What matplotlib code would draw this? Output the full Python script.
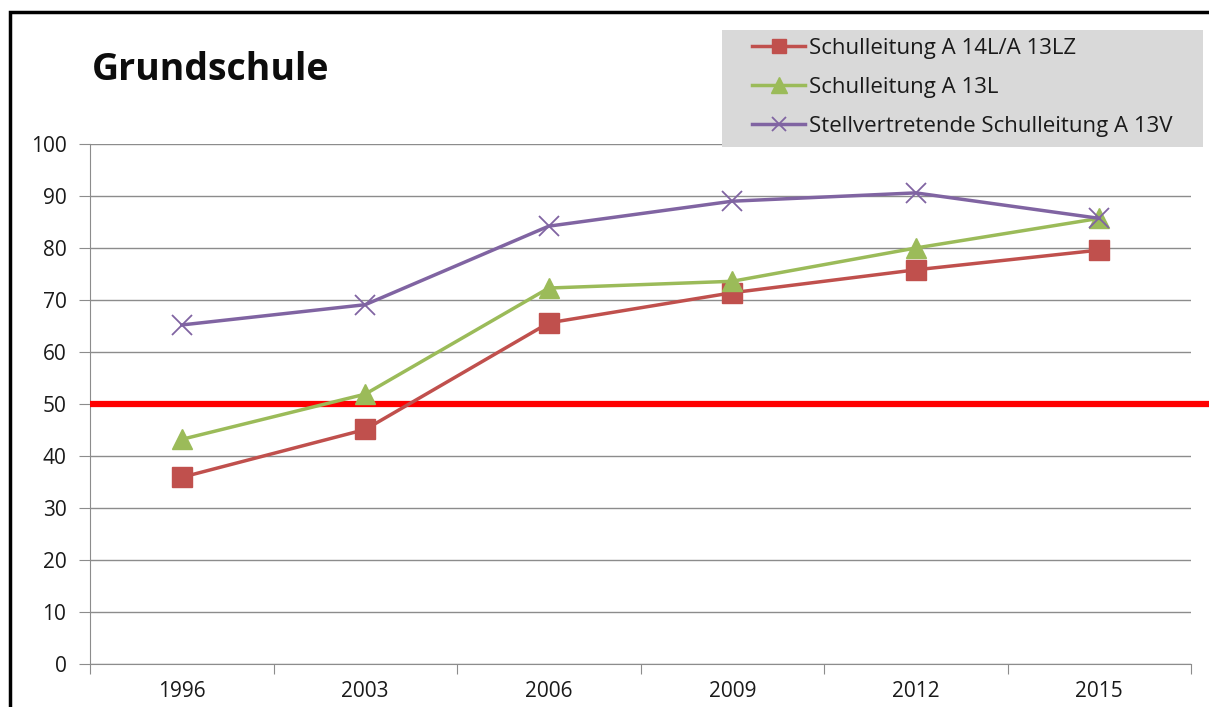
import matplotlib.pyplot as plt
from matplotlib.patches import Rectangle
import numpy as np

years = ['1996', '2003', '2006', '2009', '2012', '2015']
leitung_a14 = [35.9, 45.1, 65.6, 71.4, 75.8, 79.6]
leitung_a13 = [43.2, 51.9, 72.3, 73.6, 80.0, 85.7]
stellv_a13v = [65.2, 69.1, 84.2, 89.0, 90.6, 85.7]
threshold = 50

plt.rcParams['font.family'] = ['Open Sans', 'DejaVu Sans']

fig = plt.figure(figsize=(12.09, 7.07), dpi=100)
ax = fig.add_axes([90/1209, 1-664/707, (1191-90)/1209, (664-144)/707])

x = np.arange(len(years))
ax.plot(x, leitung_a14, color='#C0504D', lw=2.5, marker='s', ms=14,
        label='Schulleitung A 14L/A 13LZ', zorder=4)
ax.plot(x, leitung_a13, color='#9BBB59', lw=2.5, marker='^', ms=15,
        label='Schulleitung A 13L', zorder=4)
ax.plot(x, stellv_a13v, color='#8064A2', lw=2.5, marker='x', ms=14, mew=1.3,
        label='Stellvertretende Schulleitung A 13V', zorder=5)

# red 50% line, runs to the right image edge
ax.plot([-0.5, 6.0], [threshold, threshold], color='#FF0000', lw=4.5,
        solid_capstyle='butt', clip_on=False, zorder=3)

ax.set_xlim(-0.5, 5.5)
ax.set_ylim(0, 100)
ax.set_yticks(np.arange(0, 101, 10))
ax.yaxis.grid(True, color='#8c8c8c', lw=1.0)
ax.set_axisbelow(True)
ax.set_xticks(np.arange(-0.5, 6, 1))
ax.set_xticklabels([])
ax.set_xticks(x, minor=True)
ax.set_xticklabels(years, minor=True)
ax.tick_params(axis='x', which='minor', length=0, pad=12, labelsize=15, colors='#1a1a1a')
ax.tick_params(axis='x', which='major', length=7, color='#8c8c8c', direction='out')
ax.tick_params(axis='y', length=8, color='#8c8c8c', pad=9, labelsize=15, labelcolor='#1a1a1a')
for s in ['top', 'right']:
    ax.spines[s].set_visible(False)
for s in ['left', 'bottom']:
    ax.spines[s].set_color('#8c8c8c')

fig.text(92/1209, 1-70/707, 'Grundschule', fontsize=27, fontweight='bold',
         va='center', ha='left', color='#0d0d0d')

# outer chart frame (cropped on right and bottom)
fig.patches.append(Rectangle((10/1209, -0.1), 1.2, 1-12/707+0.1, transform=fig.transFigure,
                             fill=False, edgecolor='black', lw=2.5))

# legend background box
fig.patches.append(Rectangle((722/1209, 1-147/707), (1203-722)/1209, (147-30)/707,
                             transform=fig.transFigure, facecolor='#d9d9d9',
                             edgecolor='none', zorder=0))

leg = fig.legend(loc='upper left', bbox_to_anchor=(752/1209, 1-38/707), frameon=False,
                 fontsize=16, handlelength=2.4, labelspacing=0.8, borderpad=0,
                 handletextpad=0.15, borderaxespad=0, markerscale=0.75)
for t in leg.get_texts():
    t.set_color('#1a1a1a')

fig.savefig('out.png', dpi=100)
